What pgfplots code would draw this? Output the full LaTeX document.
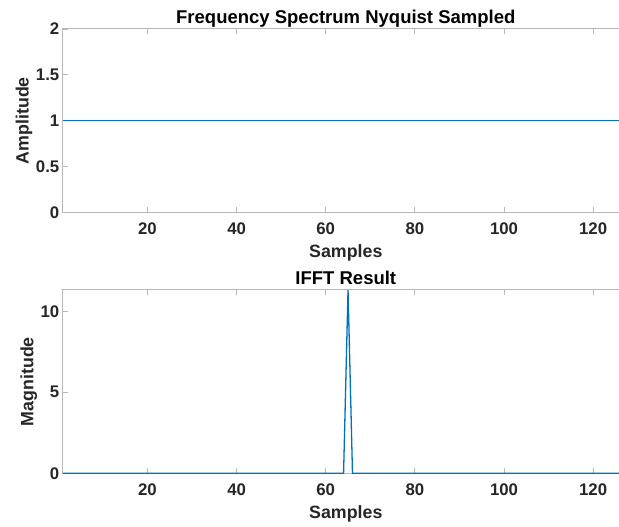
\documentclass[border=0pt]{standalone}
\usepackage{pgfplots}
\pgfplotsset{compat=1.18}
\usepackage{fontspec}
\setmainfont{Liberation Sans}
\definecolor{mblue}{rgb}{0,0.447,0.741}
\definecolor{axgray}{gray}{0.72}
\definecolor{textgray}{gray}{0.15}
\begin{document}
\begin{tikzpicture}
\useasboundingbox (0pt,0pt) rectangle (619pt,527pt);
\pgfplotsset{
  myax/.style={
    scale only axis, width=566pt, height=183.3pt,
    xmin=1, xmax=128, xtick={20,40,...,120},
    tick align=inside, major tick length=5.5pt,
    axis line style={axgray, line width=1pt},
    every tick/.style={axgray, line width=0.8pt},
    font=\fontsize{17.8}{21}\selectfont\bfseries,
    ticklabel style={font=\fontsize{16.8}{20}\selectfont\bfseries, text=textgray},
    /pgf/number format/assume math mode=true,
    xticklabel style={anchor=base, yshift=-22.7pt},
    xlabel style={at={(axis description cs:0.5,0)}, anchor=base, yshift=-45.5pt, text=textgray},
    ylabel style={inner sep=0pt, text=textgray},
    title style={at={(axis description cs:0.5,1)}, anchor=base, yshift=-0.5pt, text=black,
      font=\fontsize{18.5}{22}\selectfont\bfseries},
  }
}
\begin{axis}[myax, at={(62.8pt,314.7pt)}, anchor=south west,
  ymin=0, ymax=2, ytick={0,0.5,1,1.5,2},
  title={Frequency Spectrum Nyquist Sampled},
  xlabel={Samples}, ylabel={Amplitude}]
\addplot[mblue, line width=1.3pt] coordinates {(1,1) (128,1)};
\end{axis}
\begin{axis}[myax, at={(62.8pt,53.7pt)}, anchor=south west,
  ymin=0, ymax=11.31, ytick={0,5,10},
  title={IFFT Result},
  xlabel={Samples}, ylabel={Magnitude}]
\addplot[mblue, line width=1.3pt] coordinates {(1,0) (64,0) (65,11.31) (66,0) (128,0)};
\end{axis}
\end{tikzpicture}
\end{document}
